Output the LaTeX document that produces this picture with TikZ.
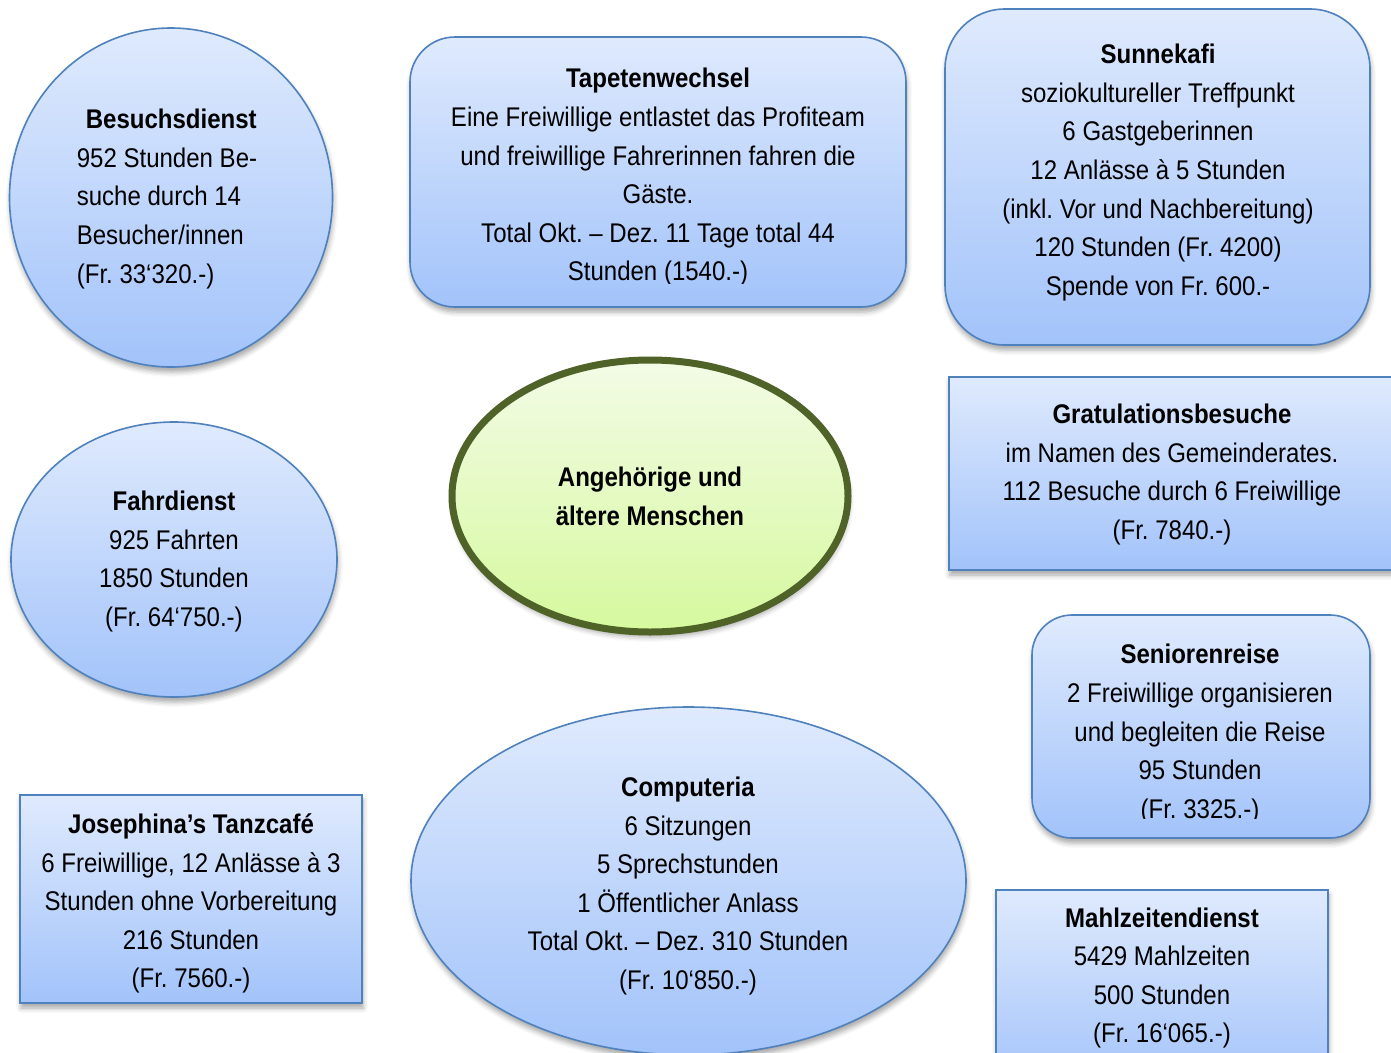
\documentclass[tikz,border=0pt]{standalone}
\usepackage{fontspec}
\setmainfont[FakeStretch=0.89]{Liberation Sans}
\usetikzlibrary{shapes.geometric,shadows.blur}
\frenchspacing
\definecolor{bluetop}{RGB}{223,234,253}
\definecolor{bluebot}{RGB}{162,195,250}
\definecolor{blueline}{RGB}{79,129,189}
\definecolor{greentop}{RGB}{243,251,230}
\definecolor{greenbot}{RGB}{214,249,158}
\definecolor{greenline}{RGB}{79,98,40}
\tikzset{
  sh/.style={blur shadow={shadow xshift=1pt,shadow yshift=-5pt,shadow blur radius=5pt,shadow opacity=35}},
  bluefill/.style={draw=blueline,line width=1.6pt,top color=bluetop,bottom color=bluebot,sh,inner sep=0pt},
  blueell/.style={bluefill,ellipse},
  bluerect/.style={bluefill,rectangle},
  txt/.style={font=\fontsize{27}{38.6}\selectfont,align=center,inner sep=0pt}
}
\begin{document}
\begin{tikzpicture}[x=1pt,y=-1pt]
\useasboundingbox (0,0) rectangle (1391,1052);
\clip (0,0) rectangle (1391,1052);
% shapes
\node[blueell,minimum width=323pt,minimum height=339pt] (besuch) at (171,197.5) {};
\node[bluerect,rounded corners=45pt,minimum width=496pt,minimum height=270pt] (tap) at (658,172) {};
\node[bluerect,rounded corners=60pt,minimum width=425pt,minimum height=336pt] (sun) at (1157.5,177) {};
\node[bluerect,minimum width=460pt,minimum height=193pt,anchor=west] (grat) at (948,473.5) {};
\node[ellipse,draw=greenline,line width=7pt,top color=greentop,bottom color=greenbot,sh,minimum width=396pt,minimum height=272pt,inner sep=0pt] (center) at (650,496) {};
\node[blueell,minimum width=326pt,minimum height=275pt] (fahr) at (174,559.5) {};
\node[bluerect,rounded corners=40pt,minimum width=338pt,minimum height=223pt] (sen) at (1201,726.5) {};
\node[bluerect,minimum width=342pt,minimum height=208pt] (jos) at (191,899) {};
\node[blueell,minimum width=555pt,minimum height=348pt] (comp) at (688.5,881) {};
\node[bluerect,minimum width=332pt,minimum height=200pt,anchor=north] (mahl) at (1162,889) {};
% texts
\node[txt,align=left] (besuchT) at (167,199) {\hspace*{9pt}\textbf{Besuchsdienst}\\952 Stunden Be-\\suche durch 14\\Besucher/innen\\(Fr. 33‘320.-)};
\begin{scope}
\clip (400,30) rectangle (920,283);
\node[txt] (tapT) at (658,177.5) {\textbf{Tapetenwechsel}\\Eine Freiwillige entlastet das Profiteam\\und freiwillige Fahrerinnen fahren die\\Gäste.\\Total Okt. – Dez. 11 Tage total 44\\Stunden (1540.-)};
\end{scope}
\node[txt] (sunT) at (1158,172.5) {\textbf{Sunnekafi}\\soziokultureller Treffpunkt\\6 Gastgeberinnen\\12 Anlässe à 5 Stunden\\(inkl. Vor und Nachbereitung)\\120 Stunden (Fr. 4200)\\Spende von Fr. 600.-};
\node[txt] (gratT) at (1172,474.5) {\textbf{Gratulationsbesuche}\\im Namen des Gemeinderates.\\112 Besuche durch 6 Freiwillige\\(Fr. 7840.-)};
\node[txt] (centerT) at (650,496.5) {\textbf{Angehörige und}\\\textbf{ältere Menschen}};
\node[txt] (fahrT) at (174,561.5) {\textbf{Fahrdienst}\\925 Fahrten\\1850 Stunden\\(Fr. 64‘750.-)};
\begin{scope}
\clip (1020,600) rectangle (1380,818);
\node[txt] (senT) at (1200,734) {\textbf{Seniorenreise}\\2 Freiwillige organisieren\\und begleiten die Reise\\95 Stunden\\(Fr. 3325.-)};
\end{scope}
\node[txt] (josT) at (191,903.5) {\textbf{Josephina’s Tanzcafé}\\6 Freiwillige, 12 Anlässe à 3\\Stunden ohne Vorbereitung\\216 Stunden\\(Fr. 7560.-)};
\node[txt] (compT) at (688,886) {\textbf{Computeria}\\6 Sitzungen\\5 Sprechstunden\\1 Öffentlicher Anlass\\Total Okt. – Dez. 310 Stunden\\(Fr. 10‘850.-)};
\node[txt] (mahlT) at (1162,978) {\textbf{Mahlzeitendienst}\\5429 Mahlzeiten\\500 Stunden\\(Fr. 16‘065.-)};
\end{tikzpicture}
\end{document}
